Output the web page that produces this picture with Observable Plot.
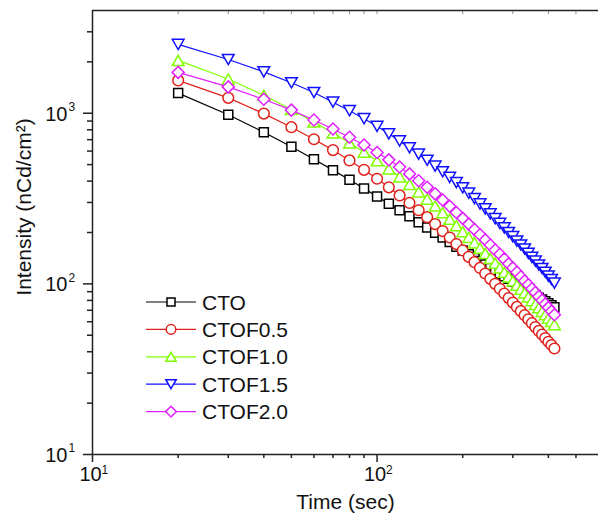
<!DOCTYPE html>
<html><head><meta charset="utf-8">
<script src="https://cdn.jsdelivr.net/npm/d3@7"></script>
<script src="https://cdn.jsdelivr.net/npm/@observablehq/plot@0.6"></script>
<style>
body{margin:0;background:#fff;}
#wrap{position:relative;width:598px;height:521px;font-family:"Liberation Sans",Arial,sans-serif;}
#wrap svg{display:block;}
#overlay{position:absolute;left:0;top:0;pointer-events:none;}
</style></head><body><div id="wrap"></div>
<script>
const times = [20,30,40,50,60,70,80,90,100,110,120,130,140,150,160,170,180,190,200,210,220,230,240,250,260,270,280,290,300,310,320,330,340,350,360,370,380,390,400,410,420];
const seriesNames = ["CTO","CTOF0.5","CTOF1.0","CTOF1.5","CTOF2.0"];
const cto    = [1312,980,774,636,537,464,407,362,325,295,270,249,230,214,199,187,176,165,157,149,142,136,130,124,120,115,111,107,103,100,97,94,91,88,86,83,81,79,77,75,73];
const ctof05 = [1557,1231,995,828,704,608,529,466,413,368,330,298,270,246,224,204,187,171,157,144,134,124,115,107,100,93.6,87.8,82.5,77.7,73.3,69.2,65.5,62.0,58.8,55.8,53.0,50.5,48.1,45.8,43.8,41.8];
const ctof10 = [2039,1586,1274,1052,889,766,669,592,527,472,424,382,346,314,286,261,239,219,202,187,174,162,151,141,132,124,117,110,104,98.3,93.2,88.4,83.9,79.8,75.9,72.4,69.0,65.9,63.0,60.3,57.7];
const ctof15 = [2530,2065,1748,1509,1323,1161,1035,929,838,757,688,628,576,530,490,454,421,392,366,340,316,294,275,257,241,226,213,200,189,178,169,160,151,143,136,129,123,117,111,106,101];
const ctof20 = [1735,1427,1208,1043,913,808,723,651,589,533,484,441,402,368,337,310,285,262,242,224,208,194,181,169,158,149,140,131,124,117,110,104,98.8,93.6,88.9,84.4,80.2,76.2,72.6,69.1,65.9];
const seriesValues = [cto, ctof05, ctof10, ctof15, ctof20];
const colors = ["#000000","#e0201b","#80ff00","#1010ff","#e020ff"];
const symbolKinds = ["square","circle","triUp","triDown","diamond"];
const xMajorTicks = [10,100];
const xMinorTicks = [20,30,40,50,60,70,80,90,200,300,400,500];
const yMajorTicks = [10,100,1000];
const yMinorTicks = [20,30,40,50,60,70,80,90,200,300,400,500,600,700,800,900,2000,3000];
const xTickExponents = ["1","2"];
const yTickExponents = ["1","2","3"];
const xTitle = "Time (sec)";
const yTitle = "Intensity (nCd/cm²)";

function makeSymbol(kind){
  return {draw(ctx, size){
    const r = Math.sqrt(size/Math.PI);
    if(kind==="square"){const a=0.9*r;ctx.moveTo(-a,-a);ctx.lineTo(a,-a);ctx.lineTo(a,a);ctx.lineTo(-a,a);ctx.closePath();}
    else if(kind==="circle"){const c=1.07*r;ctx.moveTo(c,0);ctx.arc(0,0,c,0,2*Math.PI);ctx.closePath();}
    else if(kind==="triUp"){const w=1.17*r,h=2.03*r;ctx.moveTo(0,-h/2);ctx.lineTo(w,h/2);ctx.lineTo(-w,h/2);ctx.closePath();}
    else if(kind==="triDown"){const w=1.17*r,h=2.03*r;ctx.moveTo(0,h/2);ctx.lineTo(w,-h/2);ctx.lineTo(-w,-h/2);ctx.closePath();}
    else {const d=1.2*r;ctx.moveTo(0,-d);ctx.lineTo(d,0);ctx.lineTo(0,d);ctx.lineTo(-d,0);ctx.closePath();}
  }};
}
const symbols = symbolKinds.map(makeSymbol);

const rowsBySeries = seriesValues.map((vals,i)=>times.map((t,j)=>({t, v: vals[j], s: seriesNames[i]})));

const axisColor = "#222";
const font = "Liberation Sans, Arial, sans-serif";
const marks = [];
rowsBySeries.forEach((rows,i)=>{
  marks.push(Plot.line(rows,{x:"t",y:"v",stroke:colors[i],strokeWidth:1.2}));
  marks.push(Plot.dot(rows,{x:"t",y:"v",symbol:symbols[i],r:5,stroke:colors[i],fill:"white",strokeWidth:1.5}));
});
marks.push(
  Plot.ruleX([10],{stroke:axisColor,strokeWidth:1.5}),
  Plot.ruleY([10],{stroke:axisColor,strokeWidth:1.5}),
  Plot.ruleY([4000],{stroke:axisColor,strokeWidth:1.5}),
  Plot.axisX({anchor:"bottom",ticks:xMajorTicks,tickSize:8,tickFormat:()=>"",label:null,stroke:axisColor,strokeWidth:1.5}),
  Plot.axisX({anchor:"bottom",ticks:xMinorTicks,tickSize:4,tickFormat:()=>"",label:null,stroke:axisColor,strokeWidth:1.5}),
  Plot.axisX({anchor:"top",ticks:xMinorTicks.concat([100]),tickSize:-3,tickFormat:()=>"",label:null,stroke:"#888",strokeWidth:1}),
  Plot.axisY({anchor:"left",ticks:yMajorTicks,tickSize:9,tickFormat:()=>"",label:null,stroke:axisColor,strokeWidth:1.5}),
  Plot.axisY({anchor:"left",ticks:yMinorTicks,tickSize:5,tickFormat:()=>"",label:null,stroke:axisColor,strokeWidth:1.5}),
  Plot.text(xMajorTicks,{x:d=>d,frameAnchor:"bottom",text:()=>"10",dy:26,dx:-2,fontSize:20,fill:"#111"}),
  Plot.text(xMajorTicks,{x:d=>d,frameAnchor:"bottom",text:(d,i)=>xTickExponents[i],dy:19,dx:9,textAnchor:"start",fontSize:12,fill:"#111"}),
  Plot.text(yMajorTicks,{y:d=>d,frameAnchor:"left",text:()=>"10",dx:-25,dy:1,textAnchor:"end",fontSize:20,fill:"#111"}),
  Plot.text(yMajorTicks,{y:d=>d,frameAnchor:"left",text:(d,i)=>yTickExponents[i],dx:-24,dy:-6,textAnchor:"start",fontSize:12,fill:"#111"}),
  Plot.text([xTitle],{frameAnchor:"bottom",text:d=>d,dy:54,fontSize:21,fill:"#111"})
);

const chart = Plot.plot({
  width:598,height:521,marginLeft:92,marginRight:0,marginTop:10,marginBottom:67,
  style:{fontFamily:font,background:"white",overflow:"visible"},
  x:{type:"log",domain:[10,600],label:null,axis:null},
  y:{type:"log",domain:[10,4000],label:null,axis:null},
  marks
});
const wrap = document.getElementById("wrap");
wrap.appendChild(chart);

// overlay: y-axis title and legend
const ov = d3.select(wrap).append("svg").attr("id","overlay").attr("width",598).attr("height",521);
ov.append("text").attr("transform","translate(24,207) rotate(-90)").attr("text-anchor","middle").attr("dy","0.35em")
  .attr("font-size",21).attr("font-family",font).attr("fill","#111").text(yTitle);
seriesNames.forEach((name,i)=>{
  const y = 302 + i*27.4;
  const g = ov.append("g");
  g.append("line").attr("x1",146).attr("x2",196).attr("y1",y).attr("y2",y).attr("stroke",colors[i]).attr("stroke-width",1.2);
  g.append("path").attr("transform",`translate(171,${y})`).attr("d",d3.symbol(symbols[i],Math.PI*20)()).attr("fill","white").attr("stroke",colors[i]).attr("stroke-width",1.5);
  g.append("text").attr("x",202).attr("y",y).attr("dy","0.36em").attr("font-size",21).attr("font-family",font).attr("fill","#111").text(name);
});
</script></body></html>
